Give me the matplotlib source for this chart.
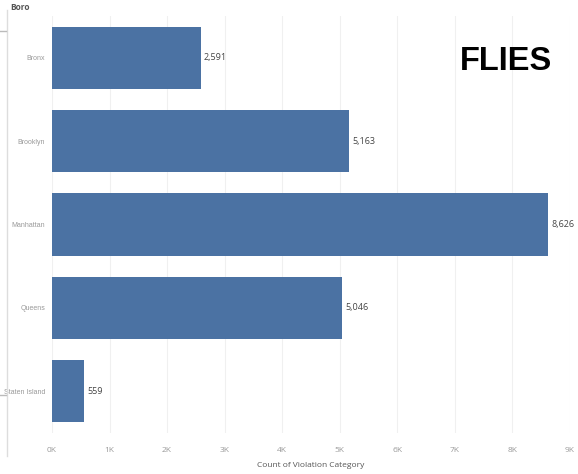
import matplotlib
matplotlib.use("Agg")
import matplotlib.pyplot as plt

boros = ["Bronx", "Brooklyn", "Manhattan", "Queens", "Staten Island"]
counts = [2591, 5163, 8626, 5046, 559]
ticks = [0, 1000, 2000, 3000, 4000, 5000, 6000, 7000, 8000, 9000]
tick_labels = ["0K", "1K", "2K", "3K", "4K", "5K", "6K", "7K", "8K", "9K"]

plt.rcParams["font.family"] = ["Open Sans", "DejaVu Sans"]

fig = plt.figure(figsize=(5.78, 4.74), dpi=100)
ax = fig.add_axes([52 / 578, 1 - 433 / 474, 518 / 578, 417 / 474])

ypos = list(range(len(boros)))
ax.barh(ypos, counts, height=0.745, color="#4b72a3", zorder=2)
for y, v in zip(ypos, counts):
    ax.text(v + 50, y, f"{v:,}", va="center", ha="left", fontsize=6.5, color="#444444")

ax.set_ylim(len(boros) - 0.5, -0.5)
ax.set_xlim(0, 9000)
ax.set_xticks(ticks)
ax.set_xticklabels(tick_labels, fontsize=6, color="#999999")
ax.set_yticks(ypos)
ax.set_yticklabels(boros, fontsize=5, color="#999999", family="Liberation Sans")
ax.tick_params(axis="y", length=0, pad=5)
ax.tick_params(axis="x", length=0, pad=10)
ax.grid(axis="x", color="#f0f0f0", linewidth=0.8, zorder=0)
for s in ax.spines.values():
    s.set_visible(False)
ax.set_xlabel("Count of Violation Category", fontsize=6, color="#555555", labelpad=6)

fig.text(10 / 578, 1 - 8 / 474, "Boro", fontsize=6, color="#555555", fontweight="bold", va="center")
fig.text(460 / 578, 1 - 62 / 474, "FLIES", fontsize=23.5, fontweight="bold",
         family="Liberation Sans", color="black", va="center", ha="left")

# left divider line with small ticks
fig.add_artist(plt.Line2D([7 / 578, 7 / 578], [1 - 10 / 474, 1 - 456 / 474], color="#dddddd", lw=1))
fig.add_artist(plt.Line2D([0, 6 / 578], [1 - 31 / 474, 1 - 31 / 474], color="#bbbbbb", lw=1))
fig.add_artist(plt.Line2D([0, 6 / 578], [1 - 395 / 474, 1 - 395 / 474], color="#bbbbbb", lw=1))

fig.savefig("out.png", dpi=100)
